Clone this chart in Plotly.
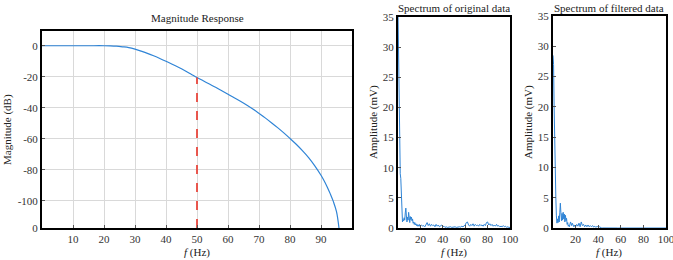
import plotly.graph_objects as go

# ---------------- data ----------------
resp_freq = [0, 5, 10, 15, 20, 22, 24, 26, 28, 30, 32, 34, 36, 38, 40, 42, 44, 46, 48, 50,
             52, 54, 56, 58, 60, 62, 64, 66, 68, 70, 72, 74, 76, 78, 80, 82, 84, 86, 88, 90,
             91, 92, 93, 94, 95, 95.8]
resp_db = [0, 0, 0, 0, 0, -0.1, -0.3, -0.7, -1.2, -2.2, -3.5, -4.9, -6.5, -8.2, -10.0, -11.9, -13.9, -16.0, -18.2, -20.5,
           -22.6, -24.7, -26.8, -29.0, -31.3, -33.5, -35.8, -38.2, -40.8, -43.6, -46.5, -49.6, -52.8, -56.2, -59.8, -63.5, -67.6, -72.1, -77.4, -83.5,
           -87.0, -91.0, -95.5, -100.5, -107.0, -117.5]

cutoff_freq = [50, 50]
cutoff_db = [-117.5, -20.5]

spec_freq = [i * 0.5 for i in range(41)] + list(range(21, 101))

orig_amp = [36, 30, 22, 12, 9, 8.2, 4, 1.2, 1.0, 1.4, 1.2, 1.7, 1.3, 2.5, 3.3, 2.0, 1.0, 1.8, 1.3, 2.6,
            1.6, 0.9, 1.9, 1.4, 1.8, 1.2, 1.5, 0.8, 1.0, 0.6, 0.9, 0.5, 0.7, 0.4, 0.6, 0.3, 0.5, 0.3, 0.6, 0.3, 0.4,
            0.5, 0.3, 0.4, 0.2, 0.6, 0.9, 0.4, 0.7, 0.3, 0.6, 0.4, 0.5, 0.2, 0.6, 0.3, 0.5, 0.2, 0.4, 0.5, 0.2,
            0.3, 0.1, 0.2, 0.1, 0.15, 0.1, 0.2, 0.1, 0.15, 0.1, 0.2, 0.1, 0.15, 0.1, 0.2, 0.15, 0.3, 0.2, 0.4, 0.5,
            0.9, 1.0, 0.5, 0.3, 0.6, 0.4, 0.7, 0.3, 0.6, 0.4, 0.5, 0.3, 0.6, 0.4, 0.5, 0.3, 0.6, 0.4, 0.9, 1.0,
            0.5, 0.7, 0.4, 0.6, 0.3, 0.5, 0.3, 0.6, 0.3, 0.4, 0.2, 0.3, 0.2, 0.4, 0.2, 0.3, 0.1, 0.2, 0.1, 0.1]

filt_amp = [28.5, 27, 20, 12, 8.2, 5, 2, 0.8, 1.5, 0.9, 2.0, 1.0, 2.5, 4.1, 2.5, 1.2, 2.4, 1.3, 2.6, 1.5,
            2.3, 1.0, 2.1, 1.2, 1.6, 0.6, 0.9, 0.3, 0.5, 0.2, 0.6, 1.0, 0.7, 0.4, 0.8, 0.5, 0.3, 0.2, 0.5, 0.3, 0.2,
            0.6, 0.3, 0.8, 0.2, 1.0, 0.4, 0.6, 0.2, 0.5, 0.2, 0.5, 0.2, 0.4, 0.2, 0.4, 0.15, 0.3, 0.1, 0.3, 0.1,
            0.2, 0.05, 0.02, 0.01] + [0] * 56

resp_ytickvals = [-117.5, -100, -80, -60, -40, -20, 0]
resp_yticktext = ["0", "-100", "-80", "-60", "-40", "-20", "0"]
resp_xtickvals = [10, 20, 30, 40, 50, 60, 70, 80, 90]
spec_ytickvals = [0, 5, 10, 15, 20, 25, 30, 35]
spec_xtickvals = [20, 40, 60, 80, 100]

# ---------------- figure ----------------
W, H = 673, 260
FONT = "Liberation Serif"
BLUE = "#2f84d6"

fig = go.Figure()
fig.add_trace(go.Scatter(x=resp_freq, y=resp_db, mode="lines", line=dict(color=BLUE, width=1.2),
                         xaxis="x", yaxis="y", line_shape="spline"))
fig.add_trace(go.Scatter(x=cutoff_freq, y=cutoff_db, mode="lines",
                         line=dict(color="#e8463c", width=1.8, dash="dash"), xaxis="x", yaxis="y"))
fig.add_trace(go.Scatter(x=spec_freq, y=orig_amp, mode="lines", line=dict(color=BLUE, width=1),
                         xaxis="x2", yaxis="y2"))
fig.add_trace(go.Scatter(x=spec_freq, y=filt_amp, mode="lines", line=dict(color=BLUE, width=1),
                         xaxis="x3", yaxis="y3"))


def px(x):
    return x / W


def py(y):
    return 1 - y / H


tickfont = dict(family=FONT, size=11, color="#333333")
common = dict(showline=True, linecolor="black", linewidth=2, mirror=True, ticks="inside",
              ticklen=3, tickcolor="#555555", tickfont=tickfont, zeroline=False,
              automargin=False, ticklabeloverflow="allow")

fig.update_layout(
    width=W, height=H, margin=dict(l=0, r=0, t=0, b=0, pad=0), autosize=False,
    paper_bgcolor="white", plot_bgcolor="white", showlegend=False,
    xaxis=dict(domain=[px(42), px(352)], range=[0, 100], tickvals=resp_xtickvals,
               showgrid=True, gridcolor="#d9d9d9", gridwidth=1, anchor="y", **common),
    yaxis=dict(domain=[py(228), py(31)], range=[-117.5, 9.5], tickvals=resp_ytickvals,
               ticktext=resp_yticktext, showgrid=True, gridcolor="#d9d9d9", gridwidth=1,
               anchor="x", **common),
    xaxis2=dict(domain=[px(398), px(510)], range=[0, 100], tickvals=spec_xtickvals,
                showgrid=False, anchor="y2", **common),
    yaxis2=dict(domain=[py(228), py(17)], range=[0, 35], tickvals=spec_ytickvals,
                showgrid=False, anchor="x2", **common),
    xaxis3=dict(domain=[px(553), px(666)], range=[0, 100], tickvals=spec_xtickvals,
                showgrid=False, anchor="y3", **common),
    yaxis3=dict(domain=[py(228), py(16)], range=[0, 35], tickvals=spec_ytickvals,
                showgrid=False, anchor="x3", **common),
)

ann_font = dict(family=FONT, size=11, color="#222222")
anns = [
    dict(text="Magnitude Response", x=px(197), y=py(18)),
    dict(text="Spectrum of original data", x=px(454), y=py(8)),
    dict(text="Spectrum of filtered data", x=px(609), y=py(8)),
    dict(text="<i>f</i> (Hz)", x=px(197), y=py(252)),
    dict(text="<i>f</i> (Hz)", x=px(454), y=py(252)),
    dict(text="<i>f</i> (Hz)", x=px(609), y=py(252)),
    dict(text="Magnitude (dB)", x=px(7), y=py(130), textangle=-90),
    dict(text="Amplitude (mV)", x=px(373), y=py(122), textangle=-90),
    dict(text="Amplitude (mV)", x=px(528), y=py(122), textangle=-90),
]
for a in anns:
    fig.add_annotation(xref="paper", yref="paper", showarrow=False, font=ann_font,
                       xanchor="center", yanchor="middle", **a)

fig.write_html("out.html", config={"displayModeBar": False},
               post_script="document.body.style.margin='0';document.body.style.padding='0';")
